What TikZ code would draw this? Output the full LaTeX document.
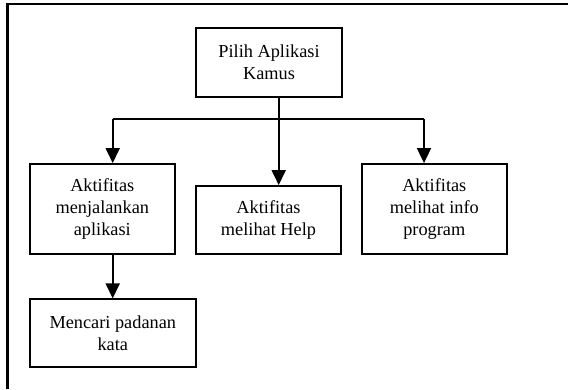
\documentclass[tikz,border=0pt]{standalone}
\usepackage{fontspec}
\setmainfont{Liberation Serif}
\usetikzlibrary{arrows.meta}
\begin{document}
\begin{tikzpicture}[x=1pt,y=-1pt,
  box/.style={draw,line width=1.8pt,align=center,inner sep=0pt,
    font=\fontsize{18.3}{21.7}\selectfont},
  conn/.style={line width=1.8pt},
  arr/.style={line width=1.8pt,-{Triangle[length=15pt,width=14pt]}}]
\useasboundingbox (0,0) rectangle (568,389);
\draw[line width=2.6pt] (7.5,389) -- (7.5,4) -- (568,4);
\node[box,minimum width=146pt,minimum height=69pt] (top) at (269,62.5) {Pilih Aplikasi\\Kamus};
\node[box,minimum width=144.7pt,minimum height=90pt] (left) at (102.3,209) {Aktifitas\\menjalankan\\aplikasi};
\node[box,minimum width=145.6pt,minimum height=68pt] (mid) at (268.5,220) {Aktifitas\\melihat Help};
\node[box,minimum width=145.3pt,minimum height=90pt] (right) at (434.3,209) {Aktifitas\\melihat info\\program};
\node[box,minimum width=165.7pt,minimum height=68pt] (bot) at (112.8,333.3) {Mencari padanan\\kata};
\coordinate (j) at (278.7,119);
\coordinate (cl) at (112.7,119);
\coordinate (cr) at (424,119);
\draw[conn] (top.south -| j) -- (j);
\draw[conn] (cl) -- (cr);
\draw[arr] (j) -- (mid.north -| j);
\draw[arr] (cl) -- (left.north -| cl);
\draw[arr] (cr) -- (right.north -| cr);
\draw[arr] (left.south -| cl) -- (bot.north -| cl);
\end{tikzpicture}
\end{document}
